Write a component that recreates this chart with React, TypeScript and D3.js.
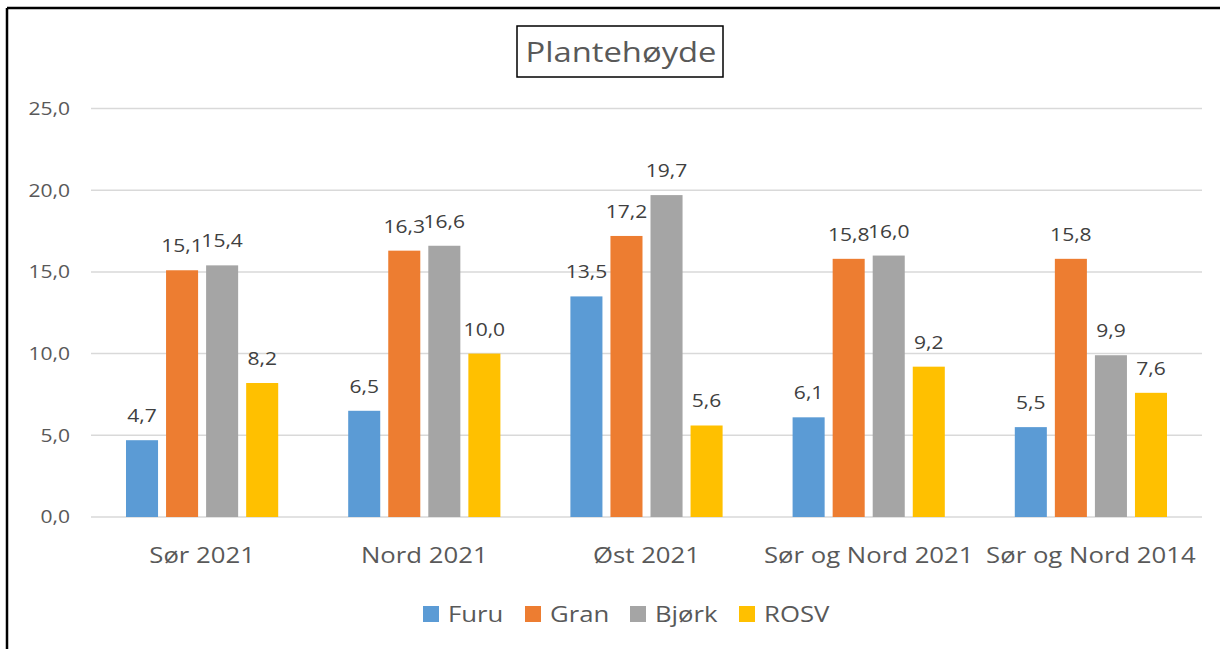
import React from "react";
import * as d3 from "d3";

const categories = ["Sør 2021", "Nord 2021", "Øst 2021", "Sør og Nord 2021", "Sør og Nord 2014"];
const seriesNames = ["Furu", "Gran", "Bjørk", "ROSV"];
const furu = [4.7, 6.5, 13.5, 6.1, 5.5];
const gran = [15.1, 16.3, 17.2, 15.8, 15.8];
const bjork = [15.4, 16.6, 19.7, 16.0, 9.9];
const rosv = [8.2, 10.0, 5.6, 9.2, 7.6];
const yTicks = [0, 5, 10, 15, 20, 25];
const colors = ["#5B9BD5", "#ED7D31", "#A5A5A5", "#FFC000"];

const W = 1220;
const H = 649;
const FONT = "'Open Sans', sans-serif";
const SX = 1.17;

function T(props: { x: number; y: number; size: number; fill: string; anchor?: string; dy?: string; children: React.ReactNode }) {
  return (
    <text
      transform={`translate(${props.x},${props.y}) scale(${SX},1)`}
      dy={props.dy}
      textAnchor={props.anchor || "start"}
      fontSize={props.size}
      fill={props.fill}
      fontFamily={FONT}
    >
      {props.children}
    </text>
  );
}

export default function App() {
  const series = [furu, gran, bjork, rosv];
  const x0 = d3.scaleBand().domain(categories).range([91, 1202]).paddingInner(0.315).paddingOuter(0.1575);
  const x1 = d3.scaleBand().domain(seriesNames).range([0, x0.bandwidth()]).paddingInner(0.2);
  const y = d3.scaleLinear().domain([0, 25]).range([517, 108.5]);
  const fmt = (v: number) => d3.format(".1f")(v).replace(".", ",");

  const legendX = [423, 525, 630, 739];

  return (
    <svg width={W} height={H} style={{ position: "absolute", left: 0, top: 0, display: "block", background: "#fff" }}>
      <rect x={0} y={0} width={W} height={H} fill="#fff" />
      <line x1={7} x2={W} y1={8} y2={8} stroke="#000" strokeWidth={2.5} />
      <line x1={7} x2={7} y1={8} y2={H} stroke="#000" strokeWidth={2.5} />
      {yTicks.map((t) => (
        <g key={t}>
          <line x1={91} x2={1202} y1={y(t)} y2={y(t)} stroke="#D9D9D9" strokeWidth={1.5} />
          <T x={70} y={y(t)} dy="0.35em" anchor="end" size={18} fill="#595959">
            {fmt(t)}
          </T>
        </g>
      ))}
      {categories.map((c, ci) => (
        <g key={c} transform={`translate(${x0(c)},0)`}>
          {seriesNames.map((s, si) => {
            const v = series[si][ci];
            const bx = x1(s)!;
            return (
              <g key={s}>
                <rect x={bx} y={y(v)} width={x1.bandwidth()} height={y(0) - y(v)} fill={colors[si]} />
                <T x={bx + x1.bandwidth() / 2} y={y(v) - 18} anchor="middle" size={18} fill="#404040">
                  {fmt(v)}
                </T>
              </g>
            );
          })}
          <T x={x0.bandwidth() / 2} y={563} anchor="middle" size={22} fill="#595959">
            {c}
          </T>
        </g>
      ))}
      <rect x={517} y={26} width={206} height={51} fill="#fff" stroke="#000" strokeWidth={1.5} />
      <T x={621} y={52} dy="0.35em" anchor="middle" size={28} fill="#595959">
        Plantehøyde
      </T>
      {seriesNames.map((s, i) => (
        <g key={s}>
          <rect x={legendX[i]} y={606} width={16} height={16} fill={colors[i]} />
          <T x={legendX[i] + 25} y={614} dy="0.35em" size={22} fill="#595959">
            {s}
          </T>
        </g>
      ))}
    </svg>
  );
}
